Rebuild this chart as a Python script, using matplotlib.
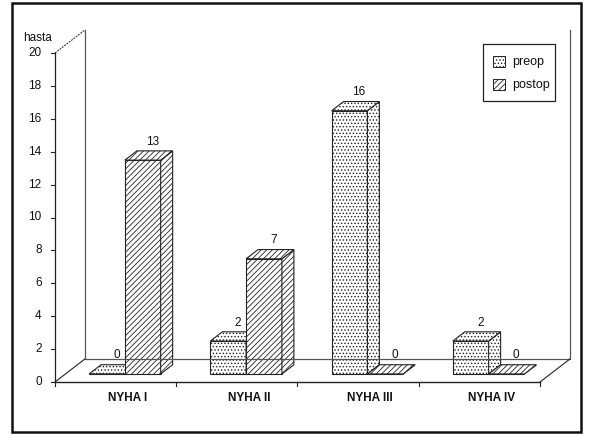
import matplotlib
matplotlib.use("Agg")
import matplotlib.pyplot as plt
from matplotlib.patches import Polygon, Rectangle

plt.rcParams['font.family'] = ['Liberation Sans', 'DejaVu Sans']
plt.rcParams['hatch.linewidth'] = 0.6

categories = ['NYHA I', 'NYHA II', 'NYHA III', 'NYHA IV']
preop = [0, 2, 16, 2]
postop = [13, 7, 0, 0]
series_names = ['preop', 'postop']
yticks = list(range(0, 21, 2))
ylabel = 'hasta'

# oblique depth of the floor / back wall in data units
DX, DY = 0.247, 1.40
# bar placement in depth (fraction of full depth) and width per bar
F0, FD = 0.35, 0.40
BW = 0.295
hatches = ['.....', '//////']

fig = plt.figure(figsize=(5.89, 4.34), dpi=100)
ax = fig.add_axes([0, 0, 1, 1])
# category unit = 121.25 px, value unit = 16.45 px
ax.set_xlim(-55 / 121.25, (589 - 55) / 121.25)
ax.set_ylim(-(434 - 382) / 16.45, 382 / 16.45)
ax.axis('off')


def pt(x, y, d):
    return (x + d * DX, y + d * DY)


ink = '#222222'
n = len(categories)

# back wall and floor
back = [pt(0, 20, 1), pt(0, 0, 1), pt(n, 0, 1), pt(n, 20, 1)]
ax.plot(*zip(*back), color='#555555', lw=0.9)
ax.plot(*zip(pt(0, 0, 0), pt(n, 0, 0)), color=ink, lw=1.0)
ax.plot(*zip(pt(0, 0, 0), pt(0, 0, 1)), color=ink, lw=0.8)
ax.plot(*zip(pt(n, 0, 0), pt(n, 0, 1)), color=ink, lw=0.8)
ax.plot(*zip(pt(0, 20, 0), pt(0, 20, 1)), color=ink, lw=0.7, ls=(0, (2, 1)))

# y axis with ticks
ax.plot([0, 0], [0, 20], color=ink, lw=0.9)
for v in yticks:
    ax.plot([-0.03, 0], [v, v], color=ink, lw=0.8)
    ax.text(-0.11, v, str(v), ha='right', va='center', fontsize=8.5, color='#111111')
ax.text(-0.148, 20.9, ylabel, ha='center', va='center', fontsize=8.5, color='#111111')

# category ticks and labels
for i in range(n + 1):
    ax.plot([i, i], [0, -0.25], color=ink, lw=0.8)
for i, c in enumerate(categories):
    ax.text(i + 0.6, -0.97, c, ha='center', va='center', fontsize=8.5,
            fontweight='bold', color='#111111')


def bar3d(x0, h, hatch):
    x1 = x0 + BW
    front = [pt(x0, 0, F0), pt(x1, 0, F0), pt(x1, h, F0), pt(x0, h, F0)]
    side = [pt(x1, 0, F0), pt(x1, 0, F0 + FD), pt(x1, h, F0 + FD), pt(x1, h, F0)]
    top = [pt(x0, h, F0), pt(x1, h, F0), pt(x1, h, F0 + FD), pt(x0, h, F0 + FD)]
    for poly in (front, side, top):
        ax.add_patch(Polygon(poly, closed=True, facecolor='white',
                             edgecolor=ink, lw=0.8, hatch=hatch))
    cx, cy = pt(x0 + BW / 2, h, F0 + FD)
    ax.text(cx - 0.02, cy + 0.2, str(h), ha='center', va='bottom', fontsize=8.5,
            color='#111111')


for i in range(n):
    start = i + 0.49 - BW
    bar3d(start, preop[i], hatches[0])
    bar3d(start + BW, postop[i], hatches[1])

# legend
ax.add_patch(Rectangle((3.531, 17.1), 0.594, 3.45, facecolor='white',
                       edgecolor=ink, lw=0.9))
for k, name in enumerate(series_names):
    yy = 19.45 - k * 1.4
    ax.add_patch(Rectangle((3.615, yy - 0.32), 0.095, 0.66, facecolor='white',
                           edgecolor=ink, lw=0.7, hatch=hatches[k]))
    ax.text(3.77, yy, name, ha='left', va='center', fontsize=9, color='#111111')

# outer frame
fig.add_artist(Rectangle((12 / 589, 2 / 434), 569 / 589, 429 / 434,
                         transform=fig.transFigure, fill=False,
                         edgecolor='#111111', lw=1.8))

fig.savefig('out.png', dpi=100)
